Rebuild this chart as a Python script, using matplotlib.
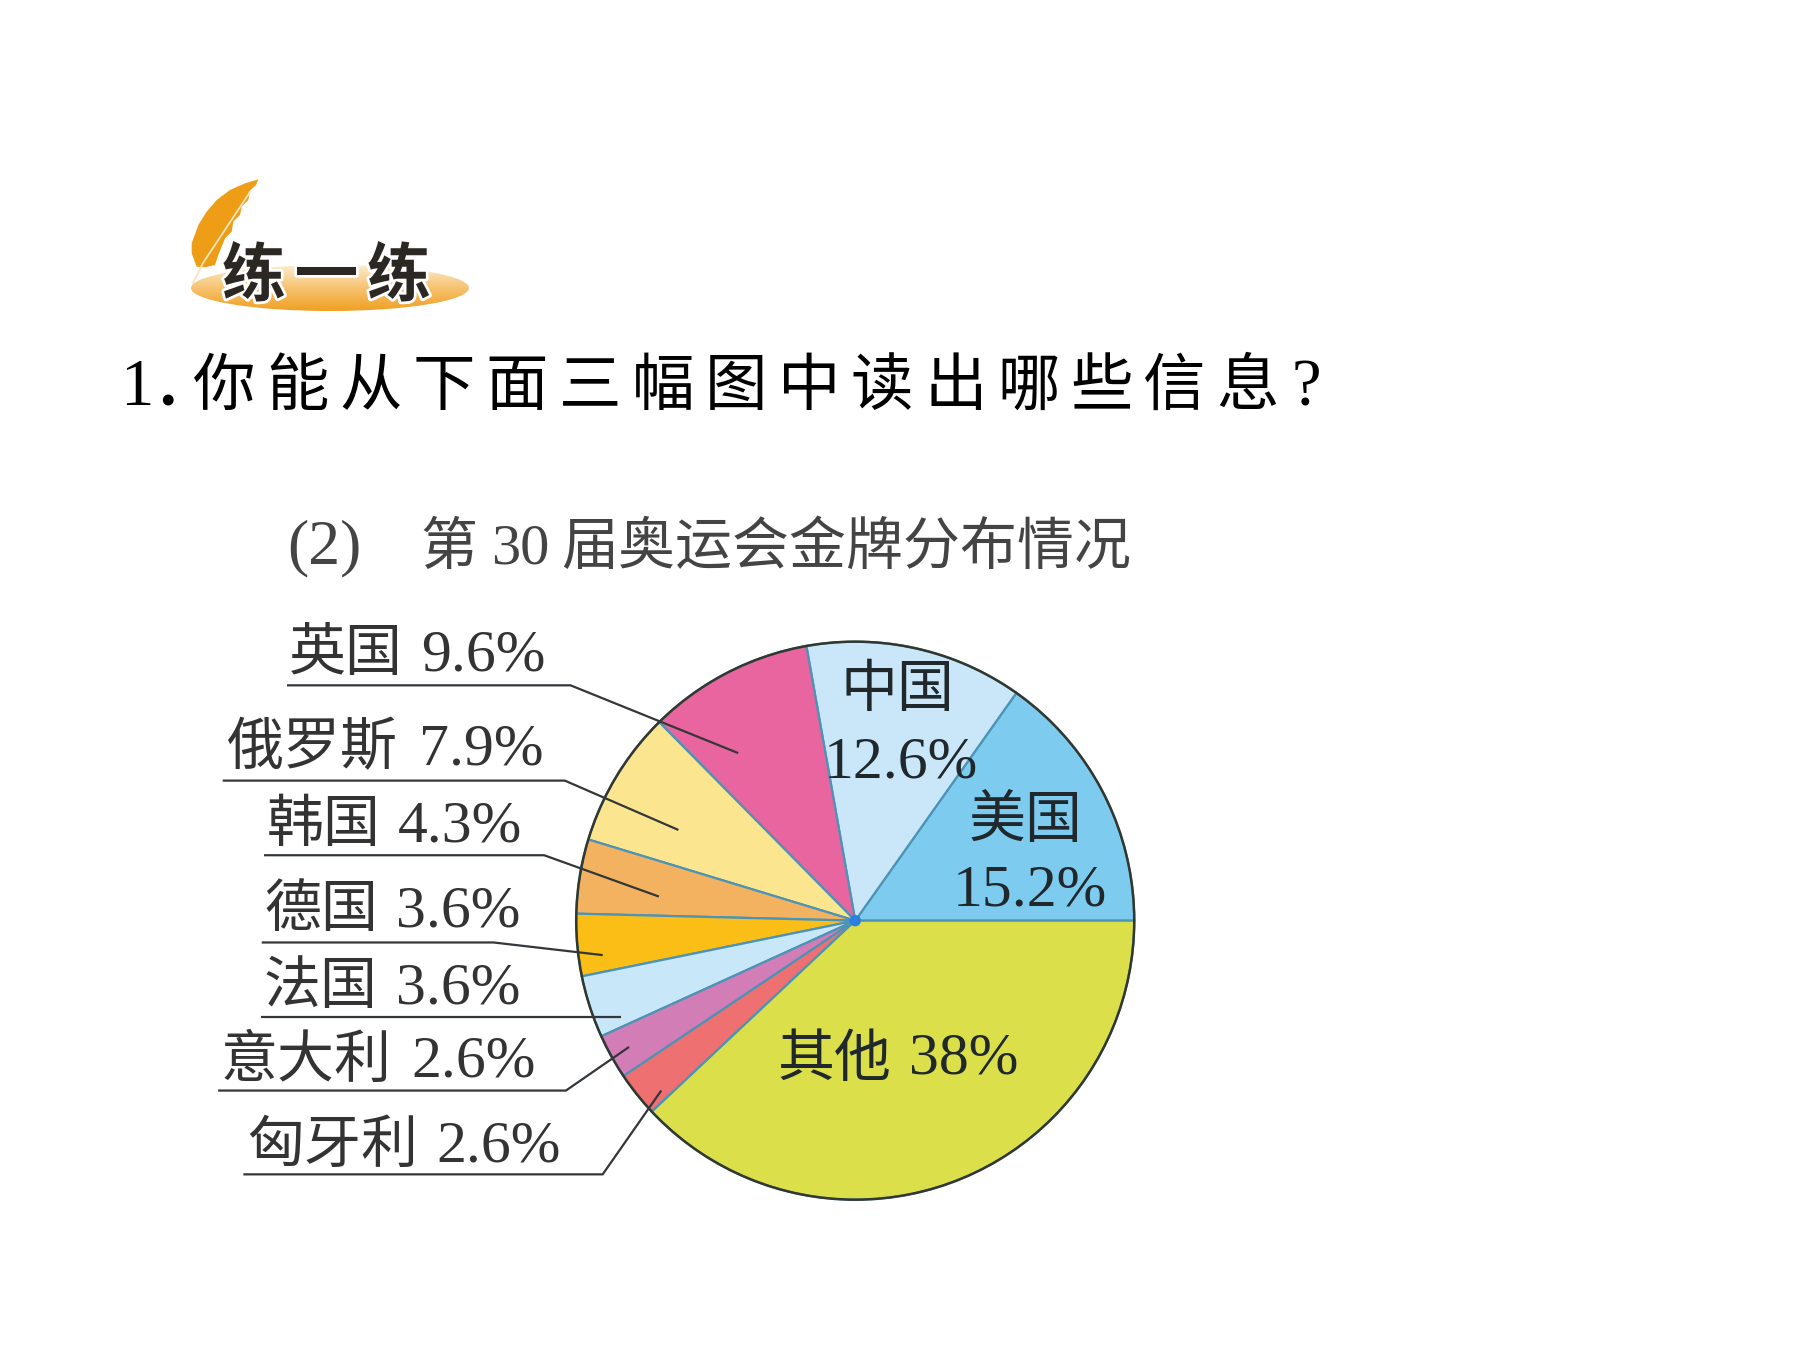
import numpy as np
import matplotlib
matplotlib.use("Agg")
import matplotlib.pyplot as plt
from matplotlib.patches import Circle, Ellipse, Polygon
import matplotlib.patheffects as pe

plt.rcParams["font.family"] = ["Liberation Serif", "Noto Sans CJK SC", "DejaVu Sans"]

# data
countries = ["美国", "中国", "英国", "俄罗斯", "韩国", "德国", "法国", "意大利", "匈牙利", "其他"]
shares = [15.2, 12.6, 9.6, 7.9, 4.3, 3.6, 3.6, 2.6, 2.6, 38.0]
share_labels = ["15.2%", "12.6%", "9.6%", "7.9%", "4.3%", "3.6%", "3.6%", "2.6%", "2.6%", "38%"]
colors = ["#7ecbf0", "#c9e7f9", "#e9659f", "#fce58f", "#f3b25f",
          "#fbbe17", "#c8e8fa", "#d27db5", "#ee7070", "#dbe04a"]

question = "你能从下面三幅图中读出哪些信息"
badge = "练一练"
title_parts = ["(2)", "第", "30", "届奥运会金牌分布情况"]

# layout, measured on the 1568 wide preview
title_x = [250, 366, 428, 489]
title_size = [46, 41, 42, 41]
# index into countries, name x, value x, baseline, line x0, line y, bend x, tip
outside = [
    (2, 252, 367, 584, 250, 597, 497, (643, 656)),
    (3, 198, 365, 666, 194, 680, 492, (591, 723)),
    (4, 232, 347, 733, 230, 745, 474, (574, 781)),
    (5, 230, 345, 807, 228, 821, 430, (525, 832)),
    (6, 230, 345, 874, 227, 886, 541, (541, 886)),
    (7, 192, 358, 938, 190, 950, 493, (548, 912)),
    (8, 215, 380, 1012, 212, 1023, 525, (576, 950)),
]
# index into countries, name x, name baseline, value x, value baseline
inside = [
    (1, 732, 615, 718, 677),
    (0, 844, 729, 830, 789),
    (9, 677, 937, 792, 935),
]

S = 1800 / 1568


def X(x):
    return x * S


def Y(y):
    return 1350 - y * S


fig = plt.figure(figsize=(18, 13.5), dpi=100)
ax = fig.add_axes([0, 0, 1, 1])

# pie
center = (X(745), Y(802))
radius = 279
ax.pie(shares, colors=colors, startangle=0, center=center, radius=radius,
       wedgeprops=dict(edgecolor="#4d93b5", linewidth=1.6))
ax.add_patch(Circle(center, radius, fill=False, edgecolor="#33382f", linewidth=1.8, zorder=3))
ax.add_patch(Circle(center, 5, color="#2c7fdc", zorder=3))

ax.set_xlim(0, 1800)
ax.set_ylim(0, 1350)
ax.set_aspect("equal")
ax.axis("off")

# leader lines and labels
line_color = "#33373a"
for idx, nx, vx, ty, x0, ly, bend, tip in outside:
    ax.plot([X(x0), X(bend), X(tip[0])], [Y(ly), Y(ly), Y(tip[1])],
            color=line_color, lw=1.6, zorder=4, solid_capstyle="butt")
    ax.text(X(nx), Y(ty), countries[idx], fontsize=41, color="#333333", ha="left", va="baseline", zorder=5)
    ax.text(X(vx), Y(ty), share_labels[idx], fontsize=43, color="#333333", ha="left", va="baseline", zorder=5)

for idx, nx, ny, vx, vy in inside:
    ax.text(X(nx), Y(ny), countries[idx], fontsize=41, color="#20282c", ha="left", va="baseline", zorder=5)
    ax.text(X(vx), Y(vy), share_labels[idx], fontsize=43, color="#20282c", ha="left", va="baseline", zorder=5)

for part, tx, size in zip(title_parts, title_x, title_size):
    ax.text(X(tx), Y(491), part, fontsize=size, color="#444444", ha="left", va="baseline")

# question line, wide character spacing
ax.text(X(105), Y(353), "1", fontsize=48, color="black", ha="left", va="baseline")
ax.text(X(139), Y(353), ".", fontsize=48, fontweight="bold", color="black", ha="left", va="baseline")
for i, ch in enumerate(question):
    ax.text(X(168 + i * 63.7), Y(353), ch, fontsize=45, color="black", ha="left", va="baseline")
ax.text(X(1125), Y(353), "?", fontsize=48, color="black", ha="left", va="baseline")

# badge: ellipse with gradient, feather and title
ellipse = Ellipse((330, 1350 - 288), 278, 46, facecolor="none", edgecolor="none")
ax.add_patch(ellipse)
grad = np.linspace(0, 1, 64).reshape(-1, 1)
cmap = matplotlib.colors.LinearSegmentedColormap.from_list(
    "badge", ["#f0a023", "#f6c270", "#fdeccd"])
im = ax.imshow(grad, cmap=cmap, origin="lower", aspect="auto",
               extent=(190, 470, 1350 - 311, 1350 - 265), zorder=1)
im.set_clip_path(ellipse)
ax.set_xlim(0, 1800)
ax.set_ylim(0, 1350)

feather = [(325, 88), (318, 105), (300, 122), (295, 150), (275, 170), (270, 195), (250, 215),
           (245, 245), (225, 265), (215, 290), (205, 315), (195, 345), (165, 352), (140, 350),
           (125, 310), (125, 280), (145, 225), (170, 185), (200, 150), (240, 120), (285, 100)]
ax.add_patch(Polygon([(x / 3 + 150, 1350 - (y / 3 + 150)) for x, y in feather], closed=True,
                     facecolor="#ee9d17", edgecolor="none", zorder=2))
ax.plot([193, 203, 250], [1350 - 283, 1350 - 263, 1350 - 192], color="#f9e3bd", lw=1.3, zorder=3)

for i, ch in enumerate(badge):
    ax.text(222 + i * 72.5, 1350 - 296, ch, fontsize=46, fontweight="bold", color="#2b2723",
            ha="left", va="baseline", zorder=4,
            family=["Noto Sans CJK SC"],
            path_effects=[pe.withStroke(linewidth=4, foreground="white")])

fig.savefig("out.png", dpi=100, facecolor="white")
